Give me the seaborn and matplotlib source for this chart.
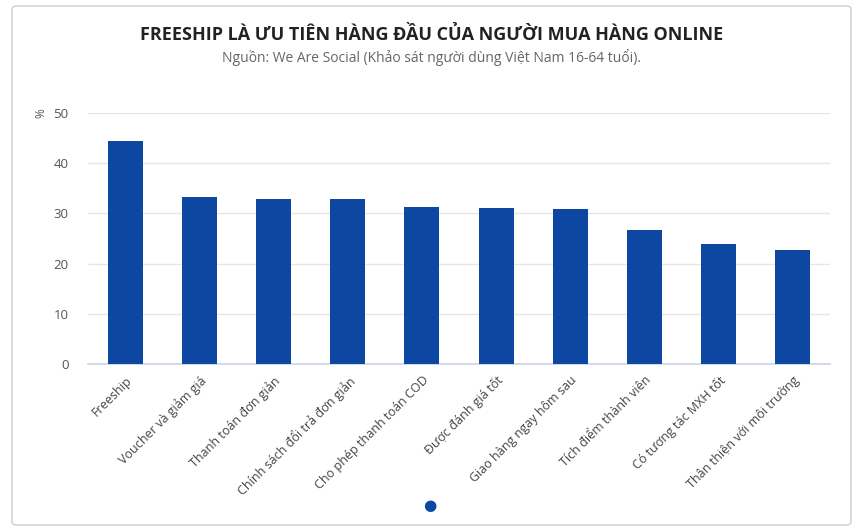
import matplotlib.pyplot as plt
import pandas as pd
import seaborn as sns
from matplotlib.patches import FancyBboxPatch

categories = ['Freeship', 'Voucher và giảm giá', 'Thanh toán đơn giản',
              'Chính sách đổi trả đơn giản', 'Cho phép thanh toán COD',
              'Được đánh giá tốt', 'Giao hàng ngay hôm sau',
              'Tích điểm thành viên', 'Có tương tác MXH tốt',
              'Thân thiện với môi trường']
percent = [44.4, 33.3, 32.9, 32.9, 31.3, 31.1, 30.9, 26.7, 24.0, 22.8]

df = pd.DataFrame({'Tiêu chí': categories, 'Tỷ lệ': percent})

sns.set_theme(style='white')
plt.rcParams['font.family'] = ['Open Sans', 'DejaVu Sans']

fig = plt.figure(figsize=(8.53, 5.28), dpi=100)
ax = fig.add_axes([88 / 853, 1 - 364 / 528, (830 - 88) / 853, (364 - 113) / 528])

sns.barplot(data=df, x='Tiêu chí', y='Tỷ lệ', color='#0d47a1', width=0.47,
            saturation=1, linewidth=0, ax=ax, zorder=3)

ax.set_ylim(0, 50)
ax.set_xlim(-0.5, 9.5)
ax.set_yticks([0, 10, 20, 30, 40, 50])
ax.yaxis.grid(True, color='#e6e6e6', linewidth=1, zorder=0)
ax.tick_params(axis='y', length=0, labelsize=9.5, labelcolor='#555555', pad=14)
ax.tick_params(axis='x', length=0, labelsize=9, labelcolor='#444444', pad=7)
ax.set_xticks(range(len(categories)))
ax.set_xticklabels(categories, rotation=45, ha='right', rotation_mode='anchor')
for side in ['left', 'right', 'top']:
    ax.spines[side].set_visible(False)
ax.spines['bottom'].set_color('#ccd6eb')
ax.set_xlabel('')
ax.set_ylabel('')

fig.text(41 / 853, 1 - 113 / 528, '%', rotation=90, ha='center', va='center',
         fontsize=8.5, color='#555555')

fig.text(432 / 853, 1 - 35 / 528, 'FREESHIP LÀ ƯU TIÊN HÀNG ĐẦU CỦA NGƯỜI MUA HÀNG ONLINE',
         ha='center', va='center', fontsize=13, fontweight='bold', color='#222222')
fig.text(432 / 853, 1 - 58 / 528, 'Nguồn: We Are Social (Khảo sát người dùng Việt Nam 16-64 tuổi).',
         ha='center', va='center', fontsize=10, color='#666666')

fig.text(430 / 853, 1 - 505 / 528, '●', ha='center', va='center',
         fontsize=11, color='#0d47a1', family='DejaVu Sans')

card = FancyBboxPatch((12 / 853, 3 / 528), (851 - 12) / 853, (522 - 3) / 528,
                      boxstyle='round,pad=0,rounding_size=0.006',
                      transform=fig.transFigure, fill=False,
                      edgecolor='#cccccc', linewidth=1)
fig.patches.append(card)

fig.savefig('out.png', dpi=100)
